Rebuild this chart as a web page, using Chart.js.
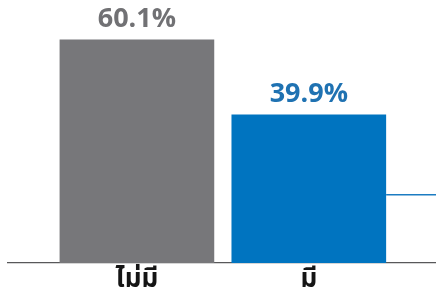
<!DOCTYPE html>
<html>
<head>
<meta charset="utf-8">
<script src="https://cdn.jsdelivr.net/npm/chart.js@4/dist/chart.umd.min.js"></script>
<style>
  html, body { margin: 0; padding: 0; background: #ffffff; }
  #wrap { width: 436px; height: 301px; position: relative; }
</style>
</head>
<body>
<div id="wrap"><canvas id="c"></canvas></div>
<script>
const categories = ['ไม่มี', 'มี'];
const values = [60.1, 39.9];
const valueLabels = ['60.1%', '39.9%'];
const barColors = ['#77777a', '#0074c0'];
const labelColors = ['#717174', '#1f72b2'];
const connectorLine = [{ x: 2.45, y: 18.4 }, { x: 2.74, y: 18.4 }];

const barData = categories.map((c, i) => ({ x: i + 1, y: values[i] }));

const valueLabelPlugin = {
  id: 'valueLabels',
  afterDatasetsDraw(chart) {
    const meta = chart.getDatasetMeta(0);
    const ctx = chart.ctx;
    ctx.save();
    ctx.font = '700 27px "Open Sans", sans-serif';
    ctx.textAlign = 'center';
    ctx.textBaseline = 'bottom';
    meta.data.forEach((el, i) => {
      ctx.fillStyle = labelColors[i];
      ctx.fillText(valueLabels[i], el.x, el.y - 7);
    });
    ctx.restore();
  }
};

new Chart(document.getElementById('c'), {
  data: {
    datasets: [
      {
        type: 'bar',
        data: barData,
        backgroundColor: barColors,
        borderWidth: 0,
        barThickness: 154,
        order: 1
      },
      {
        type: 'line',
        data: connectorLine,
        borderColor: '#1c7cc2',
        borderWidth: 1.5,
        pointRadius: 0,
        fill: false,
        order: 2
      }
    ]
  },
  options: {
    responsive: true,
    maintainAspectRatio: false,
    animation: false,
    layout: { padding: { left: 8, right: 0, top: 3, bottom: 0 } },
    plugins: { legend: { display: false }, tooltip: { enabled: false } },
    scales: {
      x: {
        type: 'linear',
        offset: false,
        min: 0.25,
        max: 2.74,
        grid: { display: false, drawTicks: false },
        border: { display: true, color: '#58585a', width: 1.2 },
        afterBuildTicks(scale) {
          scale.ticks = categories.map((c, i) => ({ value: i + 1 }));
        },
        ticks: {
          autoSkip: false,
          maxRotation: 0,
          padding: 6,
          color: '#151515',
          font: { family: '"Noto Sans Thai", "Noto Sans", sans-serif', size: 26, weight: '700', lineHeight: 1.0 },
          callback: (v) => categories[v - 1]
        }
      },
      y: {
        display: false,
        min: 0,
        max: 70
      }
    }
  },
  plugins: [valueLabelPlugin]
});
</script>
</body>
</html>
